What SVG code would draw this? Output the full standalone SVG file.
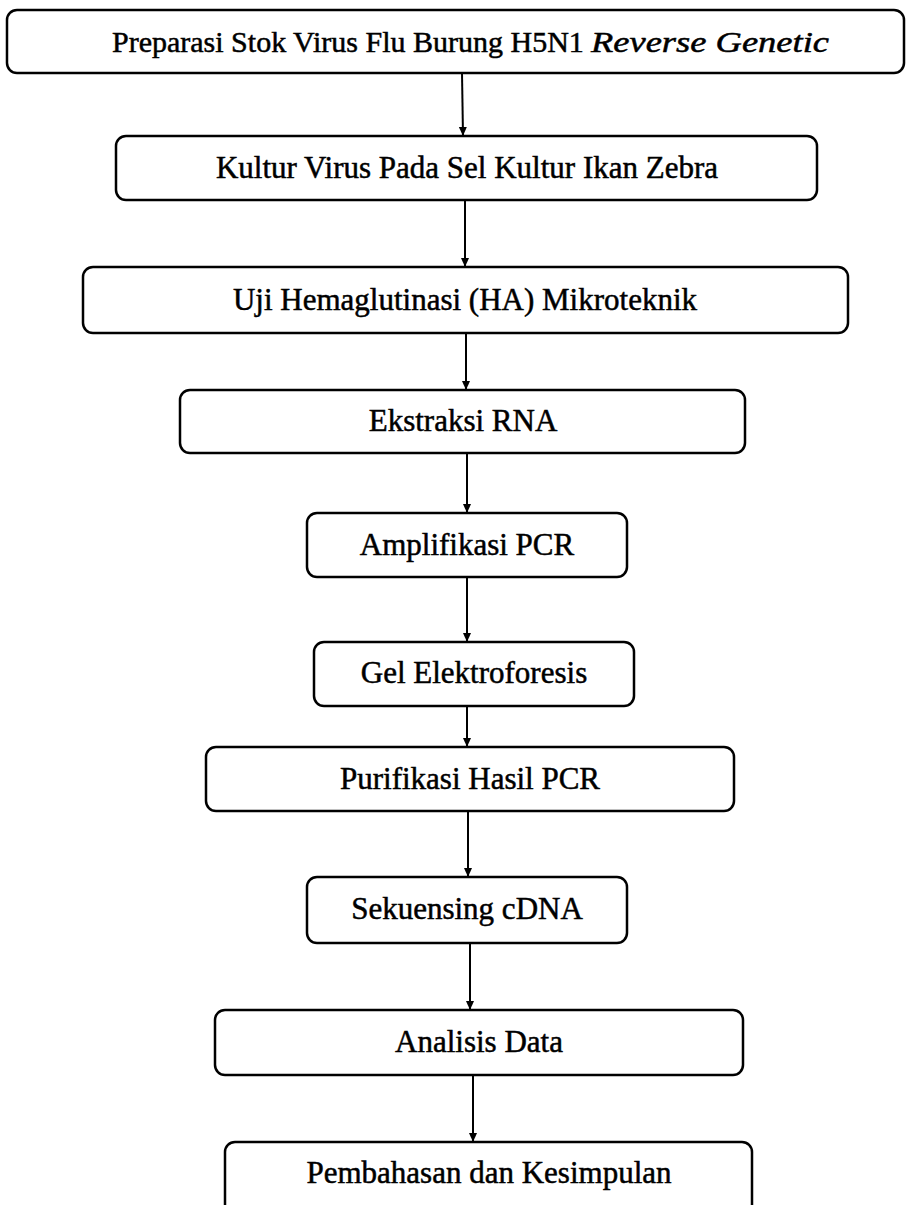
<svg xmlns="http://www.w3.org/2000/svg" width="908" height="1205" viewBox="0 0 908 1205">
<style>
.box{fill:#fff;stroke:#000;stroke-width:2.5}
.t{font-family:"Liberation Serif","Times New Roman",serif;font-size:31px;fill:#000;stroke:#000;stroke-width:0.5;text-anchor:middle}
.c{stroke:#000;stroke-width:2;fill:none}
</style>
<defs>
<marker id="ah" markerUnits="userSpaceOnUse" markerWidth="10" markerHeight="10" refX="9" refY="4" orient="auto">
<path d="M0,0 L9,4 L0,8 z" fill="#000"/>
</marker>
</defs>
<rect width="908" height="1205" fill="#fff"/>
<g id="connectors">
<line class="c" x1="462" y1="73" x2="463" y2="136" marker-end="url(#ah)"/>
<line class="c" x1="465" y1="200" x2="465" y2="267" marker-end="url(#ah)"/>
<line class="c" x1="466" y1="333" x2="466" y2="390" marker-end="url(#ah)"/>
<line class="c" x1="467" y1="453" x2="467" y2="513" marker-end="url(#ah)"/>
<line class="c" x1="467" y1="577" x2="467" y2="642" marker-end="url(#ah)"/>
<line class="c" x1="467" y1="706" x2="467" y2="747" marker-end="url(#ah)"/>
<line class="c" x1="468" y1="811" x2="468" y2="877" marker-end="url(#ah)"/>
<line class="c" x1="470" y1="943" x2="470" y2="1010" marker-end="url(#ah)"/>
<line class="c" x1="473" y1="1075" x2="473" y2="1142" marker-end="url(#ah)"/>
</g>
<g id="n1">
<rect class="box" x="7" y="10" width="897" height="63" rx="10"/>
<text x="112" y="52" style="font-family:'Liberation Serif','Times New Roman',serif;font-size:30px;stroke:#000;stroke-width:0.5"><tspan>Preparasi Stok Virus Flu Burung H5N1 </tspan><tspan x="591" font-style="italic" textLength="238" lengthAdjust="spacingAndGlyphs">Reverse Genetic</tspan></text>
</g>
<g id="n2">
<rect class="box" x="116" y="136" width="701" height="64" rx="10"/>
<text class="t" x="467" y="178">Kultur Virus Pada Sel Kultur Ikan Zebra</text>
</g>
<g id="n3">
<rect class="box" x="83" y="267" width="765" height="66" rx="10"/>
<text class="t" x="465" y="310">Uji Hemaglutinasi (HA) Mikroteknik</text>
</g>
<g id="n4">
<rect class="box" x="180" y="390" width="565" height="63" rx="10"/>
<text class="t" x="463" y="431">Ekstraksi RNA</text>
</g>
<g id="n5">
<rect class="box" x="307" y="513" width="320" height="64" rx="10"/>
<text class="t" x="467" y="555">Amplifikasi PCR</text>
</g>
<g id="n6">
<rect class="box" x="314" y="642" width="320" height="64" rx="10"/>
<text class="t" x="474" y="683">Gel Elektroforesis</text>
</g>
<g id="n7">
<rect class="box" x="206" y="747" width="528" height="64" rx="10"/>
<text class="t" x="470" y="789">Purifikasi Hasil PCR</text>
</g>
<g id="n8">
<rect class="box" x="307" y="877" width="320" height="66" rx="10"/>
<text class="t" x="467" y="919">Sekuensing cDNA</text>
</g>
<g id="n9">
<rect class="box" x="215" y="1010" width="528" height="65" rx="10"/>
<text class="t" x="479" y="1052">Analisis Data</text>
</g>
<g id="n10">
<rect class="box" x="225" y="1142" width="527" height="75" rx="10"/>
<text class="t" x="489" y="1183">Pembahasan dan Kesimpulan</text>
</g>
</svg>
